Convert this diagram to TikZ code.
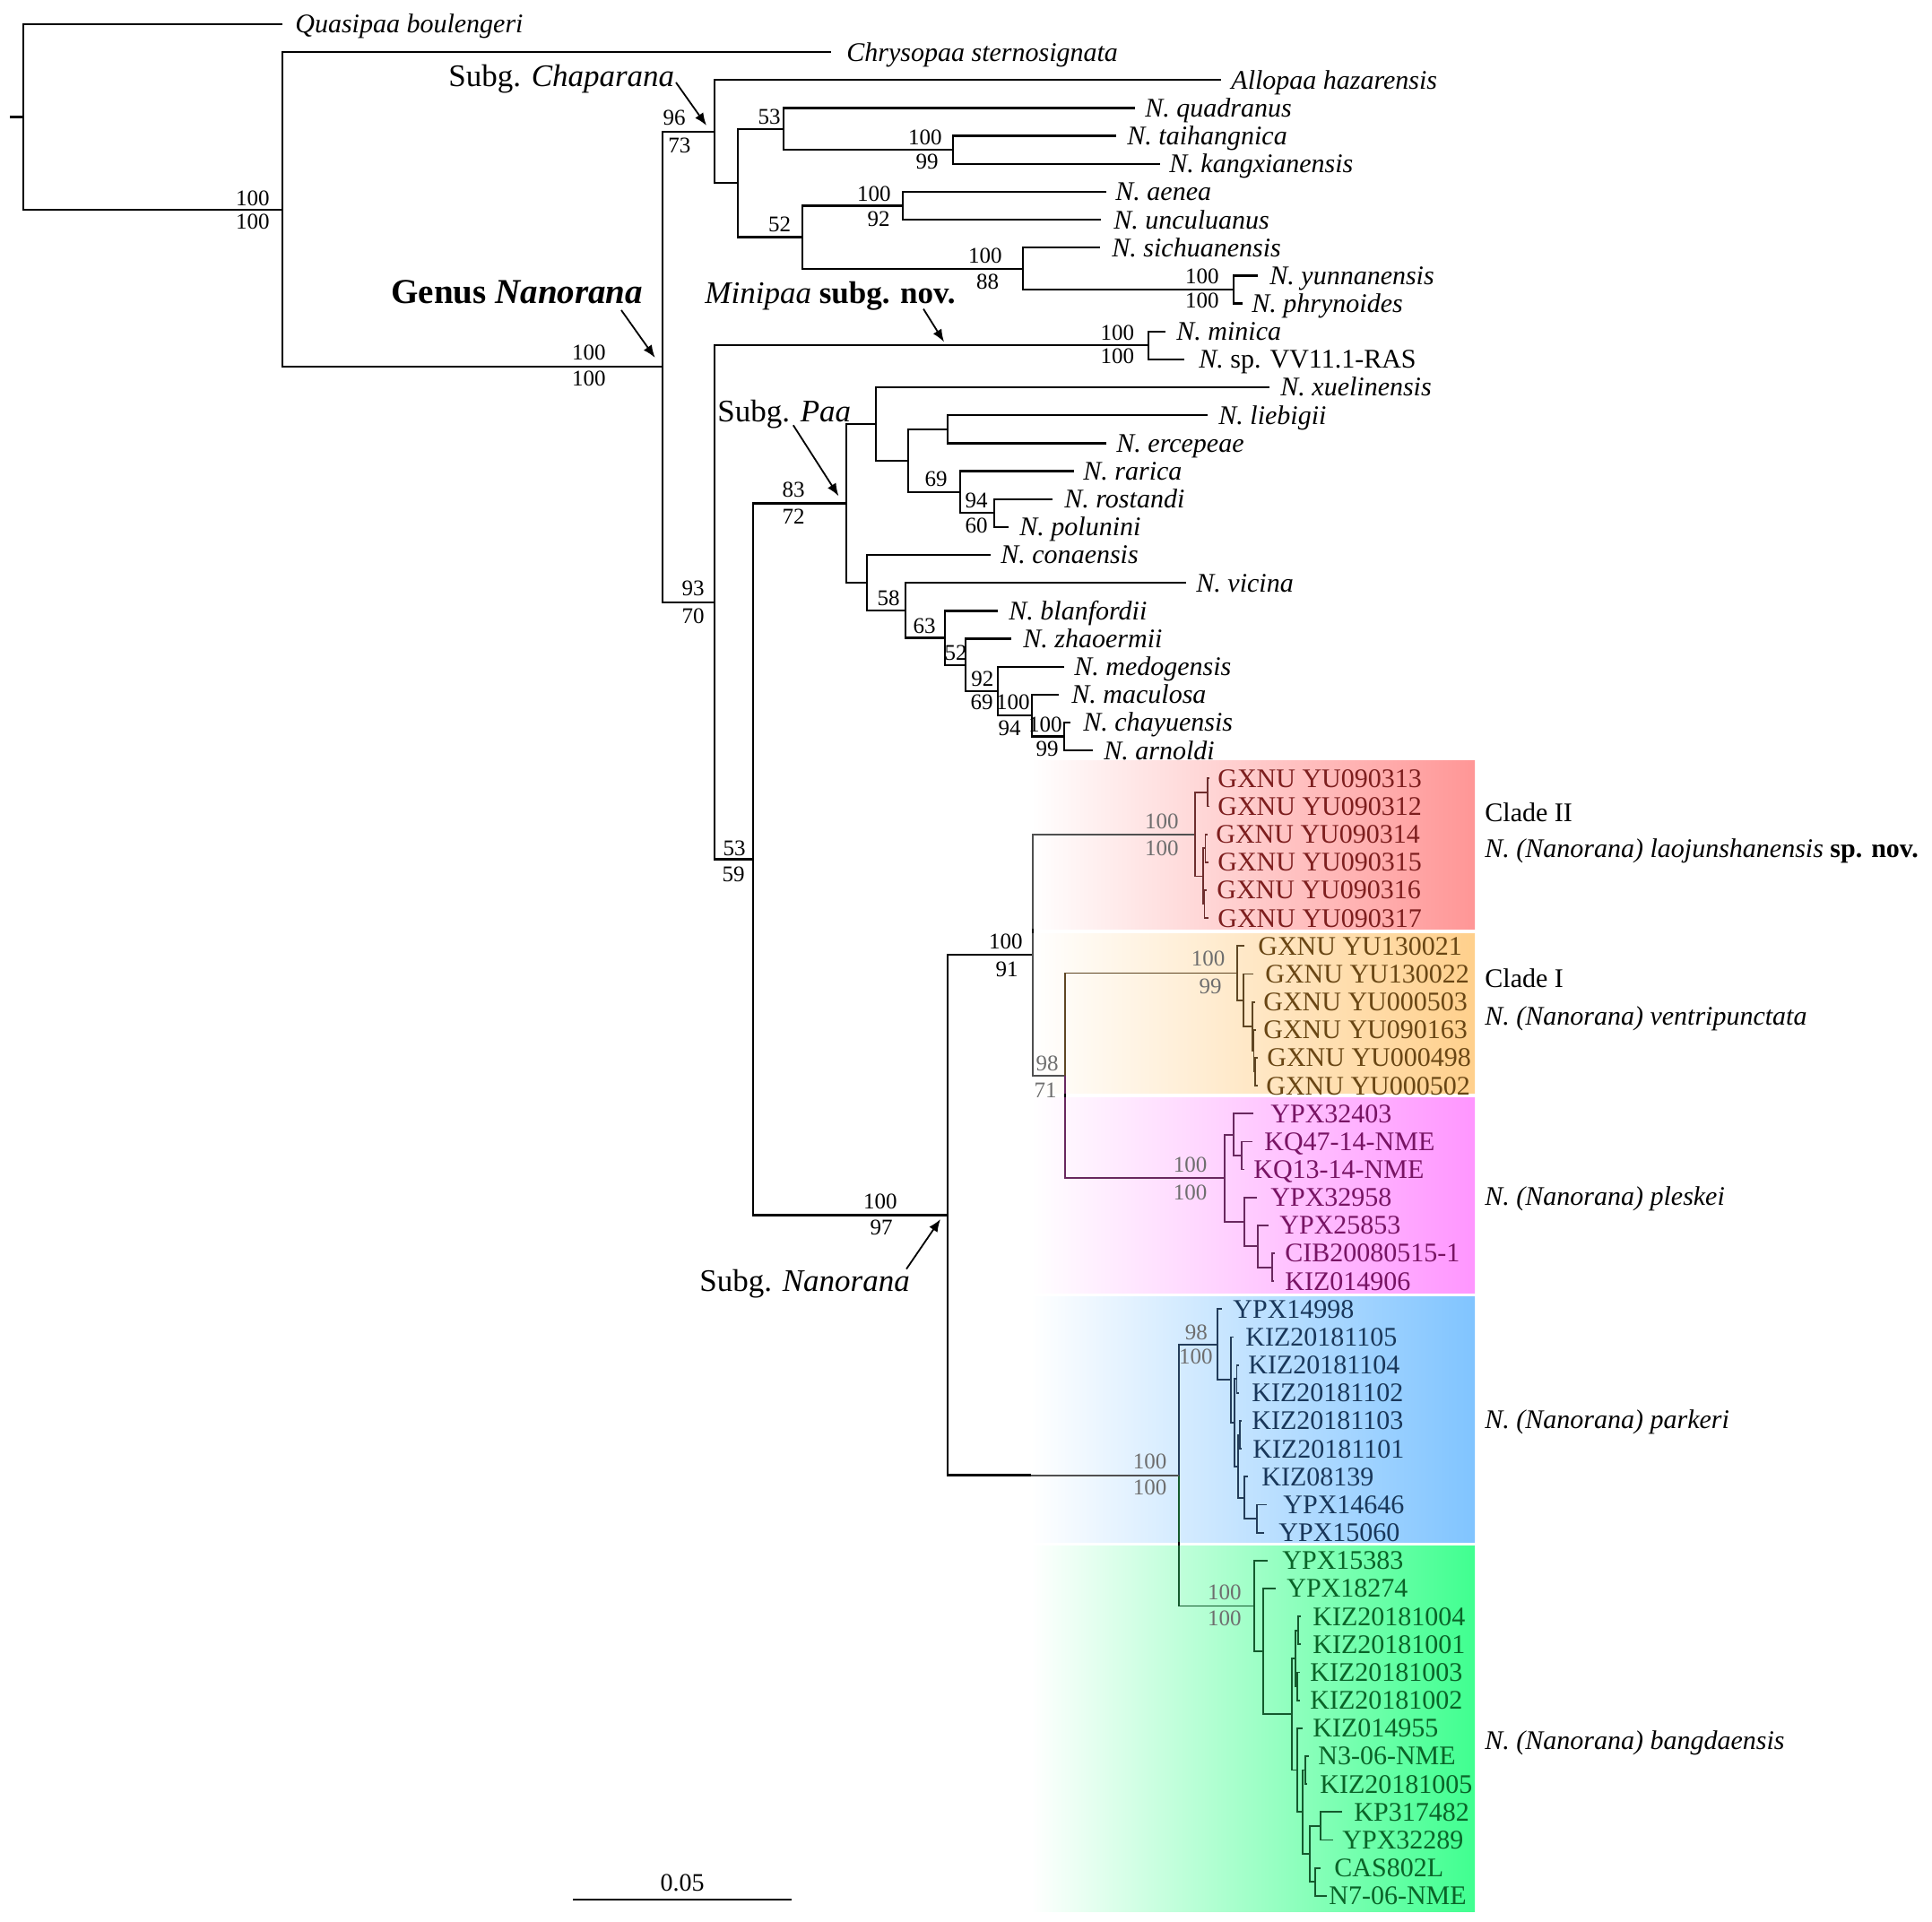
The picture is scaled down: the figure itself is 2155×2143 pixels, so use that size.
\documentclass[tikz,border=0pt]{standalone}
\usepackage{fontspec}
\setmainfont{Liberation Serif}
\usetikzlibrary{arrows.meta}
\definecolor{redbox}{RGB}{255,150,150}
\definecolor{orbox}{RGB}{255,208,140}
\definecolor{pkbox}{RGB}{255,150,255}
\definecolor{blbox}{RGB}{128,196,255}
\definecolor{grbox}{RGB}{64,255,144}
\definecolor{redtxt}{RGB}{125,30,30}
\definecolor{ortxt}{RGB}{105,70,20}
\definecolor{pktxt}{RGB}{120,20,100}
\definecolor{bltxt}{RGB}{25,55,90}
\definecolor{grtxt}{RGB}{10,100,40}
\definecolor{redln}{RGB}{110,45,45}
\definecolor{orln}{RGB}{95,70,35}
\definecolor{pkln}{RGB}{105,40,95}
\definecolor{blln}{RGB}{35,60,90}
\definecolor{grln}{RGB}{20,90,45}
\definecolor{grayln}{RGB}{80,80,80}
\definecolor{bsgray}{RGB}{110,110,110}
\newcommand{\mktip}[3]{\coordinate (t#1) at (#2,#3);}
\newcommand{\mklab}[5]{\node[#4] (l#1) at (#2,#3) {#5};}
\newcommand{\drawlist}[2]{\foreach \pp/\qq in #2 {\draw[#1] (\pp) |- (\qq);}}
\def\upE{R/t1,R/A,A/t2,A/B,B/C,B/K,C/t3,C/D,D/E,D/G,E/t4,E/F,F/t5,F/t6,G/H,G/I,H/t7,H/t8,I/t9,I/J,J/t10,J/t11,K/L,K/M,L/t12,L/t13,M/N,M/AA,N/O,N/P,O/t14,O/Q,Q/Rn,Q/S,Rn/t15,Rn/t16,S/t17,S/T,T/t18,T/t19,P/t20,P/U,U/t21,U/V,V/t22,V/W,W/t23,W/X,X/t24,X/Y,Y/t25,Y/Z,Z/t26,Z/t27,AA/AB,AA/ANin}
\def\grayE{AB/AC,AB/AD}
\def\redE{AC/c1,AC/c2,c1/t28,c1/t29,c2/c2a,c2/c2b,c2a/t30,c2a/t31,c2b/t32,c2b/t33}
\def\orE{AD/AE,AE/t34,AE/AF,AF/t35,AF/AG,AG/t36,AG/ag1,ag1/t37,ag1/ag2,ag2/t38,ag2/t39}
\def\pkE{AD/AH,AH/AI,AH/AK,AI/t40,AI/AJ,AJ/t41,AJ/t42,AK/t43,AK/AL,AL/t44,AL/AM,AM/t45,AM/t46}
\def\blE{AN/AO,AO/t47,AO/AP,AP/t48,AP/AQ,AQ/b1,AQ/AQ2,b1/t49,b1/t50,AQ2/b2,AQ2/AR,b2/t51,b2/t52,AR/t53,AR/AS,AS/t54,AS/t55}
\def\grE{AN/BA,BA/t56,BA/BB,BB/t57,BB/BC,BC/BD,BC/BE,BD/bd1,BD/bd2,bd1/t58,bd1/t59,bd2/t60,bd2/t61,BE/t62,BE/BE2,BE2/be1,BE2/BF,be1/t63,be1/t64,BF/BG,BF/BH,BG/t65,BG/t66,BH/t67,BH/t68}
\tikzset{
  br/.style={line width=1.15pt},
  cbr/.style={line width=0.9pt},
  lfbase/.style={anchor=west, inner sep=0pt, text height=12pt, text depth=2.1pt},
  lf/.style={lfbase, font=\fontsize{15}{17}\selectfont\itshape},
  lfr/.style={lfbase, font=\fontsize{15}{17}\selectfont},
  bs/.style={anchor=east, inner sep=0pt, font=\fontsize{12.5}{14}\selectfont},
  bsg/.style={bs, text=bsgray},
  sublab/.style={anchor=west, inner sep=0pt, font=\fontsize{17.5}{20}\selectfont},
  genlab/.style={anchor=west, inner sep=0pt, font=\fontsize{19.5}{22}\selectfont\bfseries},
  rlab/.style={anchor=west, inner sep=0pt, font=\fontsize{15}{17}\selectfont},
  arr/.style={line width=0.9pt, -{Latex[length=7pt,width=5.5pt]}}
}
\begin{document}
\begin{tikzpicture}[x=0.5pt, y=-0.5pt]
\useasboundingbox (0,0) rectangle (2155,2143);
% ---------- internal nodes ----------
\coordinate (R0) at (11,130.4);
\coordinate (R) at (26,130.4);
\coordinate (A) at (315,233.7);
\coordinate (B) at (739,409.3);
\coordinate (C) at (797,146.8);
\coordinate (D) at (823,204.2);
\coordinate (E) at (874,143.85);
\coordinate (F) at (1063,167.2);
\coordinate (G) at (895,264.6);
\coordinate (H) at (1007,229.5);
\coordinate (I) at (1141,299.65);
\coordinate (J) at (1376,323.0);
\coordinate (K) at (797,671.9);
\coordinate (L) at (1281,385.3);
\coordinate (M) at (840,958.4);
\coordinate (N) at (944,561.5);
\coordinate (O) at (977,473.0);
\coordinate (Q) at (1013,513.9);
\coordinate (Rn) at (1057,478.8);
\coordinate (S) at (1071,548.9);
\coordinate (T) at (1109,572.3);
\coordinate (P) at (967,650.0);
\coordinate (U) at (1010,680.9);
\coordinate (V) at (1054,711.6);
\coordinate (W) at (1077,741.7);
\coordinate (X) at (1113,771.0);
\coordinate (Y) at (1151,798.2);
\coordinate (Z) at (1187,821.6);
\coordinate (AA) at (1057,1355.4);
\coordinate (AB) at (1151.7,1065.3);
\coordinate (AC) at (1333.3,930.6);
\coordinate (c1) at (1347,883.9);
\coordinate (c2) at (1341.7,977.4);
\coordinate (c2a) at (1344.5,946.2);
\coordinate (c2b) at (1343.5,1008.5);
\coordinate (AD) at (1188.3,1199.9);
\coordinate (AE) at (1380,1085.5);
\coordinate (AF) at (1386.7,1115.7);
\coordinate (AG) at (1396.7,1144.9);
\coordinate (ag1) at (1398.5,1172.1);
\coordinate (ag2) at (1400,1195.5);
\coordinate (AH) at (1366,1314.3);
\coordinate (AI) at (1376,1265.6);
\coordinate (AJ) at (1385,1289.0);
\coordinate (AK) at (1388.3,1363.0);
\coordinate (AL) at (1402.7,1390.25);
\coordinate (AM) at (1419.3,1413.6);
\coordinate (AN) at (1315,1645.6);
\coordinate (ANin) at (1150,1645.6);
\coordinate (AO) at (1358.3,1499.8);
\coordinate (AP) at (1372.7,1539.2);
\coordinate (AQ) at (1377.3,1586.9);
\coordinate (b1) at (1379.5,1538.3);
\coordinate (AQ2) at (1381,1635.6);
\coordinate (b2) at (1383,1600.6);
\coordinate (AR) at (1388.3,1670.7);
\coordinate (AS) at (1401.7,1694.1);
\coordinate (BA) at (1399.3,1791.4);
\coordinate (BB) at (1409.3,1842.1);
\coordinate (BC) at (1441,1912.2);
\coordinate (BD) at (1445,1849.9);
\coordinate (bd1) at (1448.3,1818.7);
\coordinate (bd2) at (1446.7,1881.0);
\coordinate (BE) at (1446.7,1974.5);
\coordinate (BE2) at (1453.3,2021.2);
\coordinate (be1) at (1456,1974.5);
\coordinate (BF) at (1460.7,2068.0);
\coordinate (BG) at (1473.3,2036.8);
\coordinate (BH) at (1467.3,2099.1);
% ---------- leaf tips ----------
\mktip{1}{315}{27.0}
\mktip{2}{927}{58.16}
\mktip{3}{1362}{89.32}
\mktip{4}{1266}{120.48}
\mktip{5}{1245}{151.64}
\mktip{6}{1294}{182.80}
\mktip{7}{1234}{213.96}
\mktip{8}{1228}{245.12}
\mktip{9}{1227}{276.28}
\mktip{10}{1403}{307.44}
\mktip{11}{1386}{338.60}
\mktip{12}{1300}{369.76}
\mktip{13}{1321}{400.92}
\mktip{14}{1416}{432.08}
\mktip{15}{1347}{463.24}
\mktip{16}{1234}{494.40}
\mktip{17}{1198}{525.56}
\mktip{18}{1174}{556.72}
\mktip{19}{1125}{587.88}
\mktip{20}{1105}{619.04}
\mktip{21}{1323}{650.20}
\mktip{22}{1113}{681.36}
\mktip{23}{1128}{712.52}
\mktip{24}{1187}{743.68}
\mktip{25}{1181}{774.84}
\mktip{26}{1194}{806.00}
\mktip{27}{1219}{837.16}
\mktip{28}{1349}{868.32}
\mktip{29}{1349}{899.48}
\mktip{30}{1346.5}{930.64}
\mktip{31}{1348}{961.80}
\mktip{32}{1346}{992.96}
\mktip{33}{1348}{1024.12}
\mktip{34}{1388.3}{1055.28}
\mktip{35}{1398.3}{1086.44}
\mktip{36}{1400}{1117.60}
\mktip{37}{1401}{1148.76}
\mktip{38}{1403}{1179.92}
\mktip{39}{1403}{1211.08}
\mktip{40}{1398.3}{1242.24}
\mktip{41}{1396.7}{1273.40}
\mktip{42}{1388}{1304.56}
\mktip{43}{1401.7}{1335.72}
\mktip{44}{1415}{1366.88}
\mktip{45}{1422}{1398.04}
\mktip{46}{1421}{1429.20}
\mktip{47}{1362.7}{1460.36}
\mktip{48}{1376}{1491.52}
\mktip{49}{1382}{1522.68}
\mktip{50}{1382}{1553.84}
\mktip{51}{1385}{1585.00}
\mktip{52}{1385}{1616.16}
\mktip{53}{1392}{1647.32}
\mktip{54}{1413}{1678.48}
\mktip{55}{1410}{1709.64}
\mktip{56}{1414}{1740.80}
\mktip{57}{1423.3}{1771.96}
\mktip{58}{1451}{1803.12}
\mktip{59}{1451}{1834.28}
\mktip{60}{1450}{1865.44}
\mktip{61}{1450}{1896.60}
\mktip{62}{1452.7}{1927.76}
\mktip{63}{1460}{1958.92}
\mktip{64}{1458}{1990.08}
\mktip{65}{1497.3}{2021.24}
\mktip{66}{1487.3}{2052.40}
\mktip{67}{1472.7}{2083.56}
\mktip{68}{1480}{2114.72}
% ---------- clade boxes ----------
\shade[left color=white, right color=redbox] (1150,848.5) rectangle (1645,1036);
\shade[left color=white, right color=orbox] (1150,1041) rectangle (1645,1219.5);
\shade[left color=white, right color=pkbox] (1150,1224) rectangle (1645,1442.5);
\shade[left color=white, right color=blbox] (1150,1446) rectangle (1645,1720);
\shade[left color=white, right color=grbox] (1150,1724) rectangle (1645,2132.5);
% ---------- branches ----------
\draw[br] (R0) -- (R);
\drawlist{br}{\upE}
\drawlist{cbr,grayln}{\grayE}
\drawlist{cbr,redln}{\redE}
\drawlist{cbr,orln}{\orE}
\drawlist{cbr,pkln}{\pkE}
\drawlist{cbr,blln}{\blE}
\drawlist{cbr,grln}{\grE}
\draw[cbr,grayln] (ANin) -- (AN);
\coordinate (g1a) at (1151.7,1036); \coordinate (g1b) at (1151.7,1041);
\coordinate (g2a) at (1188.3,1219.5); \coordinate (g2b) at (1188.3,1224);
\coordinate (g3a) at (1315,1720); \coordinate (g3b) at (1315,1724);
\draw[cbr,black] (g1a) -- (g1b);
\draw[cbr,black] (g2a) -- (g2b);
\draw[cbr,black] (g3a) -- (g3b);
% ---------- leaf labels ----------
\mklab{1}{329}{27.0}{lf}{Quasipaa boulengeri}
\mklab{2}{944}{58.16}{lf}{Chrysopaa sternosignata}
\mklab{3}{1373}{89.32}{lf}{Allopaa hazarensis}
\mklab{4}{1277}{120.48}{lf}{N. quadranus}
\mklab{5}{1257}{151.64}{lf}{N. taihangnica}
\mklab{6}{1304}{182.80}{lf}{N. kangxianensis}
\mklab{7}{1244}{213.96}{lf}{N. aenea}
\mklab{8}{1242}{245.12}{lf}{N. unculuanus}
\mklab{9}{1240}{276.28}{lf}{N. sichuanensis}
\mklab{10}{1416}{307.44}{lf}{N. yunnanensis}
\mklab{11}{1396}{338.60}{lf}{N. phrynoides}
\mklab{12}{1312}{369.76}{lf}{N. minica}
\mklab{13}{1337}{400.92}{lfr}{\textit{N.} sp. VV11.1-RAS}
\mklab{14}{1428}{432.08}{lf}{N. xuelinensis}
\mklab{15}{1359}{463.24}{lf}{N. liebigii}
\mklab{16}{1245}{494.40}{lf}{N. ercepeae}
\mklab{17}{1208}{525.56}{lf}{N. rarica}
\mklab{18}{1187}{556.72}{lf}{N. rostandi}
\mklab{19}{1137}{587.88}{lf}{N. polunini}
\mklab{20}{1116}{619.04}{lf}{N. conaensis}
\mklab{21}{1334}{650.20}{lf}{N. vicina}
\mklab{22}{1125}{681.36}{lf}{N. blanfordii}
\mklab{23}{1141}{712.52}{lf}{N. zhaoermii}
\mklab{24}{1198}{743.68}{lf}{N. medogensis}
\mklab{25}{1195}{774.84}{lf}{N. maculosa}
\mklab{26}{1208}{806.00}{lf}{N. chayuensis}
\mklab{27}{1231}{837.16}{lf}{N. arnoldi}
\mklab{28}{1358}{868.32}{lfr,text=redtxt}{GXNU YU090313}
\mklab{29}{1358}{899.48}{lfr,text=redtxt}{GXNU YU090312}
\mklab{30}{1356}{930.64}{lfr,text=redtxt}{GXNU YU090314}
\mklab{31}{1358}{961.80}{lfr,text=redtxt}{GXNU YU090315}
\mklab{32}{1357}{992.96}{lfr,text=redtxt}{GXNU YU090316}
\mklab{33}{1358}{1024.12}{lfr,text=redtxt}{GXNU YU090317}
\mklab{34}{1403}{1055.28}{lfr,text=ortxt}{GXNU YU130021}
\mklab{35}{1411}{1086.44}{lfr,text=ortxt}{GXNU YU130022}
\mklab{36}{1409}{1117.60}{lfr,text=ortxt}{GXNU YU000503}
\mklab{37}{1409}{1148.76}{lfr,text=ortxt}{GXNU YU090163}
\mklab{38}{1413}{1179.92}{lfr,text=ortxt}{GXNU YU000498}
\mklab{39}{1412}{1211.08}{lfr,text=ortxt}{GXNU YU000502}
\mklab{40}{1417}{1242.24}{lfr,text=pktxt}{YPX32403}
\mklab{41}{1410}{1273.40}{lfr,text=pktxt}{KQ47-14-NME}
\mklab{42}{1398}{1304.56}{lfr,text=pktxt}{KQ13-14-NME}
\mklab{43}{1417}{1335.72}{lfr,text=pktxt}{YPX32958}
\mklab{44}{1427}{1366.88}{lfr,text=pktxt}{YPX25853}
\mklab{45}{1433}{1398.04}{lfr,text=pktxt}{CIB20080515-1}
\mklab{46}{1433}{1429.20}{lfr,text=pktxt}{KIZ014906}
\mklab{47}{1375}{1460.36}{lfr,text=bltxt}{YPX14998}
\mklab{48}{1389}{1491.52}{lfr,text=bltxt}{KIZ20181105}
\mklab{49}{1392}{1522.68}{lfr,text=bltxt}{KIZ20181104}
\mklab{50}{1396}{1553.84}{lfr,text=bltxt}{KIZ20181102}
\mklab{51}{1396}{1585.00}{lfr,text=bltxt}{KIZ20181103}
\mklab{52}{1397}{1616.16}{lfr,text=bltxt}{KIZ20181101}
\mklab{53}{1407}{1647.32}{lfr,text=bltxt}{KIZ08139}
\mklab{54}{1431}{1678.48}{lfr,text=bltxt}{YPX14646}
\mklab{55}{1426}{1709.64}{lfr,text=bltxt}{YPX15060}
\mklab{56}{1430}{1740.80}{lfr,text=grtxt}{YPX15383}
\mklab{57}{1435}{1771.96}{lfr,text=grtxt}{YPX18274}
\mklab{58}{1464}{1803.12}{lfr,text=grtxt}{KIZ20181004}
\mklab{59}{1464}{1834.28}{lfr,text=grtxt}{KIZ20181001}
\mklab{60}{1461}{1865.44}{lfr,text=grtxt}{KIZ20181003}
\mklab{61}{1461}{1896.60}{lfr,text=grtxt}{KIZ20181002}
\mklab{62}{1464}{1927.76}{lfr,text=grtxt}{KIZ014955}
\mklab{63}{1470}{1958.92}{lfr,text=grtxt}{N3-06-NME}
\mklab{64}{1472}{1990.08}{lfr,text=grtxt}{KIZ20181005}
\mklab{65}{1510}{2021.24}{lfr,text=grtxt}{KP317482}
\mklab{66}{1497}{2052.40}{lfr,text=grtxt}{YPX32289}
\mklab{67}{1488}{2083.56}{lfr,text=grtxt}{CAS802L}
\mklab{68}{1482}{2114.72}{lfr,text=grtxt}{N7-06-NME}
% ---------- support values ----------
\node[bs] (n1) at (301,221.6) {100};
\node[bs] (n2) at (301,246.8) {100};
\node[bs] (n3) at (676,393.6) {100};
\node[bs] (n4) at (676,422) {100};
\node[bs] (n5) at (765,131.7) {96};
\node[bs,anchor=west] (n6) at (745,162.8) {73};
\node[bs] (n7) at (786,656.5) {93};
\node[bs] (n8) at (786,687.5) {70};
\node[bs] (n9) at (871,130.4) {53};
\node[bs] (n10) at (1051,153.6) {100};
\node[bs] (n11) at (1047,180.4) {99};
\node[bs] (n12) at (882.5,250) {52};
\node[bs] (n13) at (994,216) {100};
\node[bs] (n14) at (993,244.6) {92};
\node[bs] (n15) at (1118,285.7) {100};
\node[bs] (n16) at (1114.5,314.3) {88};
\node[bs] (n17) at (1360,307.9) {100};
\node[bs] (n18) at (1360,335.7) {100};
\node[bs] (n19) at (1265.5,371.4) {100};
\node[bs] (n20) at (1265.5,397.5) {100};
\node[bs] (n21) at (832,946) {53};
\node[bs] (n22) at (831,975) {59};
\node[bs] (n23) at (898,546.7) {83};
\node[bs] (n24) at (898,576.7) {72};
\node[bs] (n25) at (1057,534) {69};
\node[bs] (n26) at (1102,558.3) {94};
\node[bs] (n27) at (1102,586.7) {60};
\node[bs] (n28) at (1004,667.3) {58};
\node[bs] (n29) at (1044,698.3) {63};
\node[bs] (n30) at (1079,728.3) {52};
\node[bs] (n31) at (1108.7,757.7) {92};
\node[bs] (n32) at (1108,783.3) {69};
\node[bs] (n33) at (1149,783.3) {100};
\node[bs] (n34) at (1139,812.7) {94};
\node[bs] (n35) at (1185,808) {100};
\node[bs] (n36) at (1181,835) {99};
\node[bs] (n37) at (1001,1340) {100};
\node[bs] (n38) at (996,1369) {97};
\node[bs] (n39) at (1141,1050) {100};
\node[bs] (n40) at (1136,1081.7) {91};
\node[bsg] (n41) at (1315,916.7) {100};
\node[bsg] (n42) at (1315,946) {100};
\node[bsg] (n43) at (1181,1186.7) {98};
\node[bsg] (n44) at (1179,1216.7) {71};
\node[bsg] (n45) at (1366.7,1069.3) {100};
\node[bsg] (n46) at (1363,1100) {99};
\node[bsg] (n47) at (1346.7,1299.3) {100};
\node[bsg] (n48) at (1346.7,1330) {100};
\node[bsg] (n49) at (1301.7,1630) {100};
\node[bsg] (n50) at (1301.7,1659.3) {100};
\node[bsg] (n51) at (1347.3,1486) {98};
\node[bsg] (n52) at (1353,1513.3) {100};
\node[bsg] (n53) at (1385,1776) {100};
\node[bsg] (n54) at (1385,1805.7) {100};
% ---------- group labels and arrows ----------
\node[sublab] (chaplbl) at (500,88) {Subg. \textit{Chaparana}};
\node[genlab] (genlbl) at (436,325.7) {Genus \textit{Nanorana}};
\node[sublab] (minilbl) at (786,330) {\textit{Minipaa} \textbf{subg. nov.}};
\node[sublab] (paalbl) at (800,462) {Subg. \textit{Paa}};
\node[sublab] (nanlbl) at (780,1431.7) {Subg. \textit{Nanorana}};
\coordinate (chA) at (754,92); \coordinate (chB) at (788,140);
\coordinate (geA) at (693,346); \coordinate (geB) at (730.6,399);
\coordinate (miA) at (1030,344.6); \coordinate (miB) at (1053,381.4);
\coordinate (paA) at (884.8,474.3); \coordinate (paB) at (935.4,553.3);
\coordinate (naA) at (1011,1415.6); \coordinate (naB) at (1049,1360);
\draw[arr] (chA) -- (chB);
\draw[arr] (geA) -- (geB);
\draw[arr] (miA) -- (miB);
\draw[arr] (paA) -- (paB);
\draw[arr] (naA) -- (naB);
% ---------- clade names ----------
\node[rlab] (r1) at (1656,906) {Clade II};
\node[rlab] (r2) at (1656,949) {\textit{N. (Nanorana) laojunshanensis} \textbf{sp. nov.}};
\node[rlab] (r3) at (1656,1091.7) {Clade I};
\node[rlab] (r4) at (1656,1136) {\textit{N. (Nanorana) ventripunctata}};
\node[rlab] (r5) at (1656,1337.5) {\textit{N. (Nanorana) pleskei}};
\node[rlab] (r6) at (1656,1586.7) {\textit{N. (Nanorana) parkeri}};
\node[rlab] (r7) at (1656,1944) {\textit{N. (Nanorana) bangdaensis}};
% ---------- scale bar ----------
\coordinate (sb1) at (639,2119); \coordinate (sb2) at (883,2119);
\draw[br] (sb1) -- (sb2);
\node[font=\fontsize{14}{16}\selectfont, inner sep=0pt] (sblab) at (761,2100) {0.05};
\end{tikzpicture}
\end{document}
